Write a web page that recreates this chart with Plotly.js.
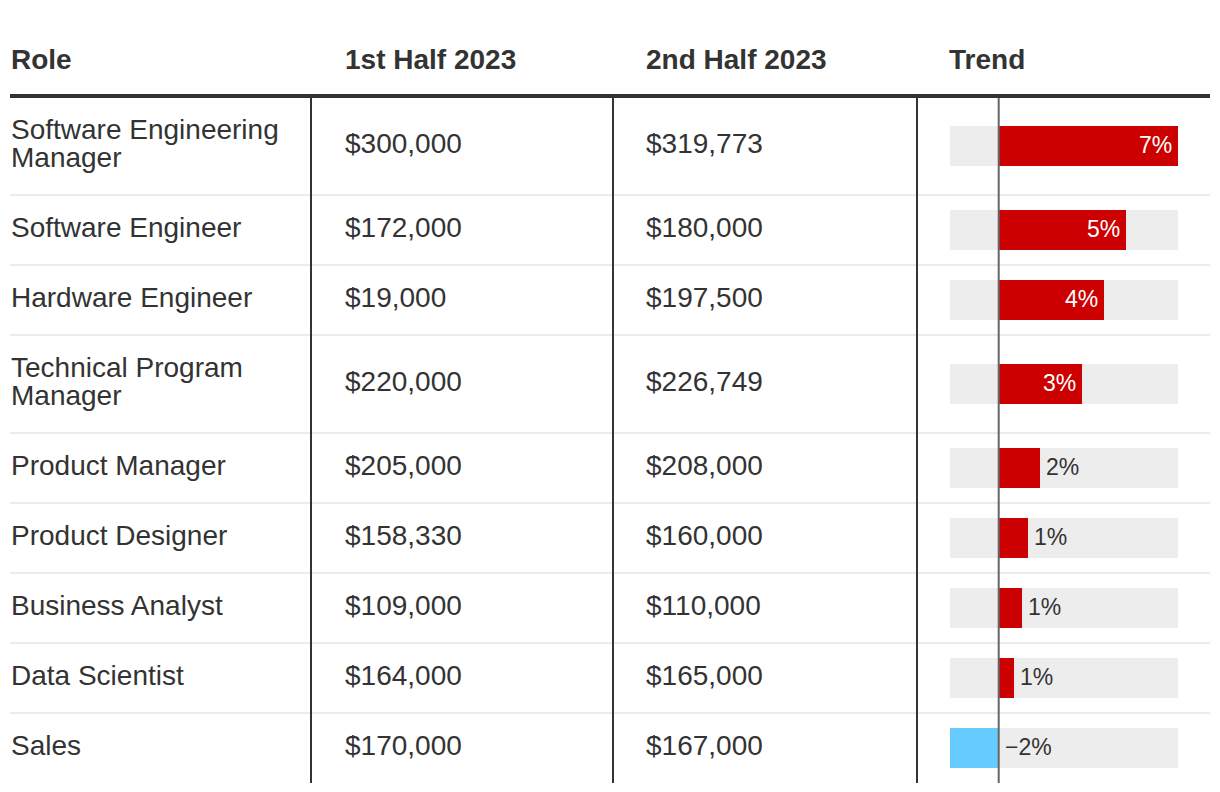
<!DOCTYPE html>
<html>
<head>
<meta charset="utf-8">
<script src="https://cdn.plot.ly/plotly-3.0.1.min.js"></script>
<style>html,body{margin:0;padding:0;background:#fff;}#chart{width:1220px;height:792px;}</style>
</head>
<body>
<div id="chart"></div>
<script>
// ---- data ----
const headers = ["Role", "1st Half 2023", "2nd Half 2023", "Trend"];
const roles = ["Software Engineering<br>Manager", "Software Engineer", "Hardware Engineer",
  "Technical Program<br>Manager", "Product Manager", "Product Designer",
  "Business Analyst", "Data Scientist", "Sales"];
const firstHalf = [300000, 172000, 19000, 220000, 205000, 158330, 109000, 164000, 170000];
const secondHalf = [319773, 180000, 197500, 226749, 208000, 160000, 110000, 165000, 167000];
const trend = [6.59, 4.68, 3.88, 3.07, 1.51, 1.07, 0.86, 0.56, -1.79];

// ---- layout constants (pixels) ----
const W = 1220, H = 792;
const tableLeft = 10, tableRight = 1210;
const headerLineY = 96, tableTop = 98;
const colLines = [311, 613, 917];
const colTextX = [11, 345, 646, 949];
const trendX0 = 950, trendX1 = 1178;
const lineH = 28, rowPad = 42, barH = 40;
const dark = "#333333";
const font = "'Liberation Sans', Arial, Helvetica, sans-serif";
const tx = -2; // annotation padding compensation

const fmt = v => "$" + v.toLocaleString("en-US");
const px = x => x / W;

// rows
const rowTops = [], rowCenters = [];
let y = tableTop - 1;
roles.forEach(r => {
  const n = r.split("<br>").length;
  const h = rowPad + lineH * n;
  rowTops.push(y);
  rowCenters.push(y + h / 2);
  y += h;
});
const tableBottom = y;

const shapes = [];
const annotations = [];

// header texts
headers.forEach((h, i) => {
  annotations.push({
    xref: "paper", yref: "y", x: px(colTextX[i]), y: 59, xanchor: "left", yanchor: "middle", xshift: tx,
    text: "<b>" + h + "</b>", showarrow: false, font: {family: font, size: 28, color: dark}
  });
});
// header underline
shapes.push({type: "line", xref: "paper", yref: "y", x0: px(tableLeft), x1: px(tableRight),
  y0: headerLineY, y1: headerLineY, line: {color: dark, width: 4}});
// row separators
rowTops.slice(1).forEach(t => {
  shapes.push({type: "line", xref: "paper", yref: "y", x0: px(tableLeft), x1: px(tableRight),
    y0: t, y1: t, line: {color: "#ececec", width: 2}, layer: "below"});
});
// column lines
colLines.forEach(cx => {
  shapes.push({type: "line", xref: "paper", yref: "y", x0: px(cx), x1: px(cx),
    y0: tableTop, y1: tableBottom, line: {color: dark, width: 2}});
});
// background bars
rowCenters.forEach(c => {
  shapes.push({type: "rect", xref: "x domain", yref: "y", x0: 0, x1: 1,
    y0: c - barH / 2, y1: c + barH / 2, fillcolor: "#ededed", line: {width: 0}, layer: "below"});
});
// zero line
shapes.push({type: "line", xref: "x", yref: "y", x0: 0, x1: 0, y0: tableTop, y1: tableBottom,
  line: {color: "#666666", width: 2}, layer: "above"});

// cell texts
roles.forEach((r, i) => {
  const c = rowCenters[i] - 3;
  const lines = r.split("<br>");
  lines.forEach((ln, k) => {
    annotations.push({
      xref: "paper", yref: "y", x: px(colTextX[0]), y: c + (k - (lines.length - 1) / 2) * lineH,
      xanchor: "left", yanchor: "middle", xshift: tx, text: ln, showarrow: false,
      font: {family: font, size: 28, color: dark}
    });
  });
  annotations.push({xref: "paper", yref: "y", x: px(colTextX[1]), y: c, xanchor: "left", yanchor: "middle", xshift: tx,
    text: fmt(firstHalf[i]), showarrow: false, font: {family: font, size: 28, color: dark}});
  annotations.push({xref: "paper", yref: "y", x: px(colTextX[2]), y: c, xanchor: "left", yanchor: "middle", xshift: tx,
    text: fmt(secondHalf[i]), showarrow: false, font: {family: font, size: 28, color: dark}});
  // trend labels
  const v = trend[i];
  const label = (v < 0 ? "\u2212" : "") + Math.abs(Math.round(v)) + "%";
  const inside = v > 2.5;
  annotations.push({
    xref: "x", yref: "y", x: inside ? v : Math.max(v, 0), y: rowCenters[i] - 1,
    xanchor: inside ? "right" : "left", yanchor: "middle", xshift: inside ? -4 : 4,
    text: label, showarrow: false,
    font: {family: font, size: 23, color: inside ? "#ffffff" : dark}
  });
});

const xmin = Math.min(...trend), xmax = Math.max(...trend);

const traces = [{
  type: "bar", orientation: "h", x: trend, y: rowCenters, width: barH,
  marker: {color: trend.map(v => v >= 0 ? "#cc0000" : "#66ccff"), line: {width: 0}},
  hoverinfo: "skip", textposition: "none"
}];

const layout = {
  width: W, height: H, margin: {l: 0, r: 0, t: 0, b: 0, pad: 0},
  paper_bgcolor: "#ffffff", plot_bgcolor: "rgba(0,0,0,0)", showlegend: false,
  xaxis: {domain: [px(trendX0), px(trendX1)], range: [xmin, xmax], visible: false, fixedrange: true},
  yaxis: {domain: [0, 1], range: [H, 0], visible: false, fixedrange: true},
  shapes: shapes, annotations: annotations, bargap: 0
};

Plotly.newPlot("chart", traces, layout, {staticPlot: true, displayModeBar: false});
</script>
</body>
</html>
